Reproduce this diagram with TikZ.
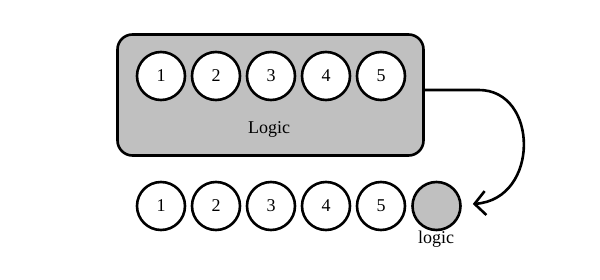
\documentclass[tikz,border=0pt]{standalone}
\usepackage{fontspec}
\setmainfont{Liberation Serif}
\usetikzlibrary{arrows.meta}
\definecolor{boxgray}{HTML}{C0C0C0}
\begin{document}
\begin{tikzpicture}[x=1pt,y=-1pt,
  every node/.style={font=\fontsize{18}{21}\selectfont, inner sep=0pt},
  ball/.style={circle, draw=black, line width=2.6pt, fill=white, minimum size=48pt},
  grayball/.style={ball, fill=boxgray},
  bigbox/.style={draw=black, line width=2.6pt, fill=boxgray, rounded corners=15pt,
                 minimum width=306pt, minimum height=121pt},
  flow/.style={line width=2.6pt, -{Straight Barb[length=11pt,width=24pt,line width=2.6pt]}}]
\useasboundingbox (0,0) rectangle (600,280);
\node[bigbox] (box) at (270.5,95) {};
\node (lbl) at (269,129) {Logic};
\foreach \i/\x in {1/161,2/216,3/271,4/326,5/381}{
  \node[ball] (t\i) at (\x,76) {\i};
  \node[ball] (b\i) at (\x,206) {\i};
}
\node[grayball] (g) at (436.5,206) {};
\node (glbl) at (436,239) {logic};
\coordinate (tip) at ([xshift=11pt,yshift=2pt]g.east);
\draw[flow] ([yshift=5pt]box.east) -- ++(54,0) .. controls +(60,0) and (540,199) .. (tip);
\end{tikzpicture}
\end{document}
